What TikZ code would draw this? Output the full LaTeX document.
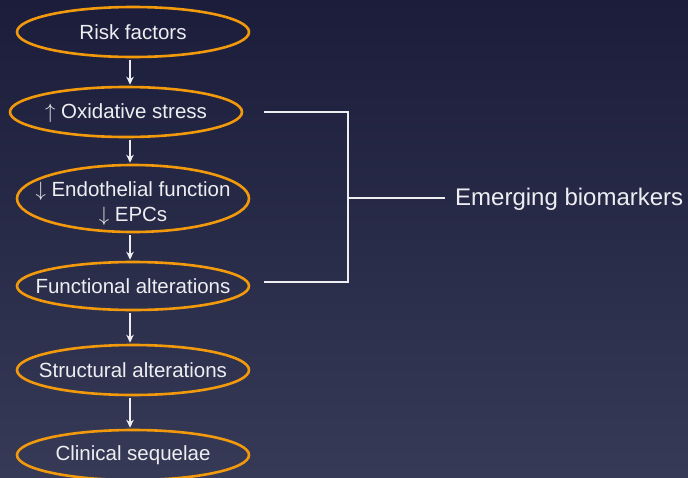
\documentclass[tikz,border=0pt]{standalone}
\usepackage{fontspec}
\setmainfont{Liberation Sans}
\usetikzlibrary{shapes.geometric,arrows.meta}
\definecolor{bgtop}{HTML}{1B1D3B}
\definecolor{bgbot}{HTML}{363A56}
\definecolor{orng}{HTML}{F39A0C}
\definecolor{txt}{HTML}{EEEEF2}
\tikzset{
  oval/.style={ellipse, draw=orng, line width=2.6pt, inner sep=0pt,
    minimum width=232pt, minimum height=50pt},
  lbl/.style={text=txt, font=\fontsize{20.5}{25}\selectfont, align=center, inner sep=0pt},
  arr/.style={draw=txt, line width=1.8pt, -{Stealth[length=8pt,width=7.5pt]}, shorten <=2pt, shorten >=1pt},
  brk/.style={draw=txt, line width=1.8pt}
}
\newcommand{\upa}{$\uparrow$ }
\newcommand{\dna}{$\downarrow$ }
\begin{document}
\begin{tikzpicture}[x=1pt,y=-1pt]
\shade[top color=bgtop, bottom color=bgbot] (0,0) rectangle (688,477);
\useasboundingbox (0,0) rectangle (688,477);
\node[oval] (rf) at (133,32) {};
\node[lbl] (rft) at (rf) {Risk factors};
\node[oval] (ox) at (126,112) {};
\node[lbl] (oxt) at (126,113.5) {\upa Oxidative stress};
\node[oval, minimum height=67pt] (en) at (133,198.5) {};
\node[lbl] (ent) at (133,204) {\dna Endothelial function\\\dna EPCs};
\node[oval, minimum height=48pt] (fa) at (133,286) {};
\node[lbl] (fat) at (fa) {Functional alterations};
\node[oval] (sa) at (133,370) {};
\node[lbl] (sat) at (sa) {Structural alterations};
\node[oval] (cs) at (133,455) {};
\node[lbl] (cst) at (cs) {Clinical sequelae};
\coordinate (ax) at (130,0);
\draw[arr] (rf.south -| ax) -- (ox.north -| ax);
\draw[arr] (ox.south -| ax) -- (en.north -| ax);
\draw[arr] (en.south -| ax) -- (fa.north -| ax);
\draw[arr] (fa.south -| ax) -- (sa.north -| ax);
\draw[arr] (sa.south -| ax) -- (cs.north -| ax);
\coordinate (b1) at (264,112);
\coordinate (b2) at (348,112);
\coordinate (b3) at (348,282);
\coordinate (b4) at (264,282);
\coordinate (bm) at (348,198);
\coordinate (be) at (445,198);
\node[anchor=west, text=txt, font=\fontsize{24}{28}\selectfont, inner sep=0pt] (em) at (455,199.5) {Emerging biomarkers};
\draw[brk] (b1) -- (b2) -- (b3) -- (b4);
\draw[brk] (bm) -- (be);
\end{tikzpicture}
\end{document}
